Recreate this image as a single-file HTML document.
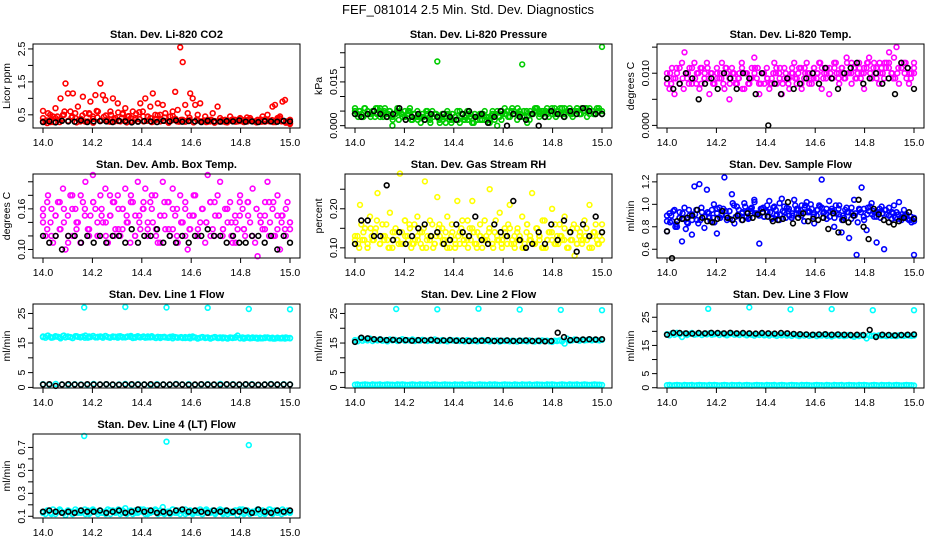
<!DOCTYPE html>
<html><head><meta charset="utf-8"><style>
html,body{margin:0;padding:0;background:#fff;}
svg{display:block;font-family:"Liberation Sans",sans-serif;}
</style></head><body>
<svg id="chart" width="936" height="540" viewBox="0 0 936 540" xmlns="http://www.w3.org/2000/svg">
<text x="468" y="14" text-anchor="middle" font-size="13">FEF_081014  2.5 Min. Std. Dev. Diagnostics</text>
</svg>
<script>
const xTicks = [14.0,14.2,14.4,14.6,14.8,15.0];
const xTickLabels = ["14.0","14.2","14.4","14.6","14.8","15.0"];
const spikeX = [14.167,14.333,14.5,14.667,14.833,15.0];

const co2Red = [0.62,0.3,0.55,0.28,0.45,0.7,0.35,1.0,0.5,1.45, 1.15,0.6,1.15,0.4,0.75,0.3,1.05,0.55,0.3,0.9, 0.45,1.1,0.6,1.45,1.1,0.95,0.3,0.6,1.0,0.4, 0.85,0.3,0.55,0.7,0.45,0.3,0.6,0.4,0.3,0.85, 0.6,1.0,0.45,0.75,1.15,0.5,0.85,0.3,0.8,0.55, 0.3,0.45,0.6,1.2,0.65,2.55,2.1,0.8,0.55,1.15, 1.0,0.8,0.5,0.85,0.3,0.45,0.35,0.3,0.55,0.3, 0.75,0.4,0.3,0.35,0.3,0.45,0.3,0.35,0.3,0.4, 0.3,0.35,0.3,0.4,0.3,0.3,0.35,0.3,0.45,0.3, 0.5,0.3,0.75,0.8,0.4,0.45,0.9,0.95,0.3,0.25];
const co2RedBase = [0.3,0.25,0.35,0.4,0.28,0.5,0.32,0.45,0.27,0.38,0.3,0.55,0.26,0.42,0.33,0.48,0.29,0.36,0.31,0.52,0.27,0.4,0.34,0.58,0.3,0.44,0.28,0.37,0.5,0.32,0.26,0.46,0.3,0.35,0.29,0.41,0.27,0.33,0.3,0.28,0.35,0.26,0.32,0.3,0.27,0.34,0.29,0.31,0.28,0.33,0.3,0.27,0.36,0.29,0.32,0.28,0.35,0.3,0.26,0.22];
const co2RedBase2 = [0.4,0.33,0.5,0.28,0.45,0.36,0.6,0.3,0.42,0.55,0.34,0.48,0.29,0.52,0.38,0.62,0.31,0.44,0.35,0.5,0.3,0.57,0.4,0.33,0.46,0.29,0.53,0.37,0.45,0.32,0.4,0.3,0.48,0.36,0.42,0.3,0.33,0.38,0.29,0.35,0.31,0.34,0.28,0.36,0.3,0.33,0.29,0.35,0.31,0.3,0.34,0.28,0.32,0.36,0.3,0.38,0.33,0.42,0.35,0.3,0.33,0.29,0.36,0.31,0.34,0.28,0.4,0.32,0.3,0.35];
const co2Black = [0.28,0.3,0.27,0.32,0.3,0.29,0.33,0.28,0.3,0.31,0.3,0.28,0.32,0.3,0.27,0.29,0.31,0.3,0.28,0.32,0.3,0.33,0.29,0.31,0.3,0.28,0.32,0.3,0.29,0.31,0.3,0.33,0.29,0.3,0.28,0.31,0.3,0.29,0.32,0.3];

const pressGreen = [0.006,0.004,0.005,0.003,0.006,0.005,0.004,0.005,0.003,0.006, 0.005,0.004,0.006,0.003,0.005,0.0,0.004,0.006,0.005,0.003, 0.005,0.004,0.006,0.002,0.004,0.005,0.003,0.004,0.002,0.005, 0.003,0.005,0.004,0.022,0.001,0.004,0.003,0.005,0.002,0.004, 0.003,0.005,0.001,0.004,0.002,0.005,0.003,0.001,0.004,0.002, 0.004,0.002,0.005,0.003,0.001,0.004,0.002,0.0,0.003,0.004, 0.006,0.005,0.003,0.006,0.004,0.002,0.005,0.021,0.003,0.001, 0.002,0.004,0.005,0.006,0.004,0.005,0.003,0.006,0.005,0.004, 0.006,0.005,0.004,0.006,0.003,0.005,0.006,0.004,0.005,0.006, 0.004,0.006,0.005,0.003,0.006,0.005,0.004,0.006,0.005,0.027];
const pressGreen2 = [0.004,0.005,0.003,0.005,0.004,0.006,0.003,0.005,0.004,0.002,0.005,0.004,0.003,0.005,0.004,0.002,0.003,0.005,0.001,0.004,0.003,0.002,0.004,0.001,0.003,0.005,0.002,0.004,0.001,0.003,0.004,0.002,0.003,0.004,0.005,0.002,0.004,0.003,0.005,0.004,0.003,0.005,0.004,0.006,0.003,0.005,0.004,0.005,0.003,0.006,0.004,0.005,0.003,0.005,0.004,0.006,0.005,0.004,0.005,0.004];
const pressGreen3 = [0.005,0.003,0.004,0.006,0.004,0.003,0.005,0.004,0.006,0.003,0.004,0.005,0.003,0.004,0.002,0.004,0.003,0.005,0.002,0.004,0.003,0.001,0.003,0.004,0.002,0.003,0.004,0.002,0.003,0.001,0.004,0.002,0.003,0.002,0.004,0.003,0.002,0.004,0.001,0.003,0.002,0.004,0.003,0.002,0.005,0.004,0.003,0.005,0.004,0.003,0.005,0.004,0.006,0.004,0.005,0.003,0.005,0.004,0.006,0.005,0.004,0.005,0.003,0.006,0.004,0.005,0.004,0.006,0.005,0.004,0.005,0.006,0.004,0.005,0.006,0.004,0.005,0.004,0.006,0.005];
const pressBlack = [0.004,0.003,0.004,0.005,0.004,0.003,0.004,0.006,0.002,0.003,0.004,0.002,0.004,0.003,0.004,0.003,0.002,0.004,0.005,0.003,0.004,0.001,0.003,0.005,0.0,0.004,0.003,0.002,0.004,0.0,0.003,0.005,0.004,0.003,0.005,0.004,0.006,0.005,0.004,0.004];

const liTempMag = [.009,.007,.011,.006,.010,.008,.012,.014,.009,.011, .008,.012,.010,.007,.011,.009,.012,.006,.010,.008, .011,.009,.012,.007,.010,.005,.011,.009,.008,.010, .012,.007,.010,.008,.011,.013,.009,.006,.010,.008, .011,.007,.009,.012,.008,.010,.006,.011,.009,.007, .010,.012,.008,.011,.007,.009,.012,.010,.008,.011, .009,.012,.007,.010,.011,.006,.009,.012,.010,.008, .011,.009,.013,.010,.008,.011,.009,.012,.010,.007, .011,.013,.009,.012,.010,.008,.011,.009,.012,.014, .010,.013,.015,.008,.011,.012,.009,.008,.010,.012];
const liTempMag2 = [.010,.008,.009,.011,.007,.010,.009,.008,.011,.010,.009,.008,.010,.009,.011,.008,.010,.009,.007,.010,.009,.011,.008,.010,.009,.008,.010,.011,.009,.008,.010,.009,.011,.010,.008,.009,.010,.011,.009,.010,.011,.009,.010,.012,.010,.009,.011,.010,.012,.009,.011,.010,.012,.011,.009,.010,.011,.012,.010,.011];
const liTempMag3 = [.008,.010,.009,.011,.008,.009,.010,.008,.011,.009,.010,.008,.009,.011,.010,.008,.009,.010,.008,.011,.009,.010,.008,.009,.011,.010,.008,.009,.010,.011,.008,.010,.009,.008,.010,.011,.009,.008,.010,.009,.011,.009,.010,.008,.011,.010,.009,.011,.010,.012,.009,.010,.011,.009,.012,.010,.011,.009,.010,.012,.011,.010,.009,.011,.012,.010,.011,.009,.012,.010,.011,.012,.010,.009,.011,.012,.010,.011,.009,.010];
const liTempBlack = [.009,.007,.008,.010,.009,.005,.008,.009,.007,.010,.009,.007,.010,.009,.006,.010,.000,.008,.006,.009,.007,.008,.009,.010,.008,.011,.009,.007,.010,.011,.012,.008,.009,.010,.008,.009,.006,.012,.011,.007];

const ambMag = [.16,.12,.18,.14,.11,.15,.17,.13,.19,.10, .15,.18,.12,.16,.14,.11,.17,.20,.13,.15, .21,.16,.12,.18,.14,.19,.11,.15,.17,.13, .18,.12,.16,.19,.14,.11,.17,.15,.20,.13, .16,.19,.12,.17,.14,.18,.11,.15,.20,.13, .17,.12,.19,.15,.11,.18,.14,.16,.10,.13, .15,.18,.12,.14,.16,.11,.21,.17,.13,.15, .18,.20,.12,.16,.14,.17,.11,.15,.13,.18, .16,.12,.17,.14,.19,.11,.09,.15,.13,.17, .20,.14,.16,.12,.18,.10,.15,.13,.17,.14];
const ambMag2 = [.14,.17,.12,.15,.13,.16,.12,.18,.14,.11,.16,.13,.17,.12,.15,.14,.18,.12,.16,.13,.15,.17,.12,.14,.16,.13,.18,.12,.15,.17,.13,.16,.12,.14,.17,.13,.15,.12,.16,.14,.17,.12,.15,.13,.16,.12,.14,.17,.13,.15,.12,.16,.14,.13,.17,.12,.15,.14,.16,.13];
const ambMag3 = [.15,.13,.16,.12,.17,.14,.11,.16,.13,.18,.15,.12,.17,.14,.16,.12,.15,.17,.13,.16,.14,.18,.12,.15,.17,.14,.16,.13,.11,.15,.17,.13,.16,.14,.12,.15,.18,.13,.16,.14,.12,.17,.15,.13,.16,.14,.11,.15,.13,.17,.12,.16,.14,.15,.12,.17,.13,.15,.12,.14];
const ambBlack = [.12,.11,.12,.10,.12,.12,.11,.12,.11,.12,.11,.12,.12,.11,.13,.11,.12,.12,.13,.11,.12,.11,.12,.11,.12,.12,.13,.12,.12,.11,.12,.11,.11,.12,.12,.11,.12,.10,.12,.11];

const rhYellow = [.11,.13,.21,.12,.15,.10,.18,.12,.14,.24, .11,.16,.13,.12,.19,.10,.14,.12,.29,.11, .17,.13,.15,.11,.12,.18,.14,.10,.27,.13, .12,.16,.11,.23,.13,.15,.12,.18,.10,.14, .12,.22,.11,.17,.13,.12,.15,.22,.11,.14, .13,.10,.17,.12,.25,.11,.14,.13,.19,.12, .15,.11,.21,.12,.10,.14,.13,.18,.11,.16, .12,.24,.11,.15,.13,.10,.17,.12,.14,.20, .11,.13,.16,.12,.18,.10,.14,.12,.08,.15, .13,.11,.17,.12,.21,.10,.14,.12,.13,.16];
const rhYellow2 = [.12,.10,.14,.11,.13,.15,.11,.12,.10,.14,.12,.11,.13,.16,.11,.12,.14,.10,.13,.11,.15,.12,.10,.13,.11,.14,.12,.10,.15,.11,.13,.12,.14,.10,.12,.11,.13,.15,.11,.12,.10,.14,.12,.11,.13,.10,.12,.14,.11,.13,.12,.10,.15,.11,.12,.13,.10,.14,.11,.12];
const rhYellow3 = [.13,.11,.16,.12,.10,.15,.12,.17,.11,.13,.16,.10,.12,.15,.11,.14,.17,.12,.10,.16,.13,.11,.15,.12,.17,.10,.13,.16,.11,.14,.12,.16,.10,.13,.15,.11,.17,.12,.14,.10,.16,.12,.13,.15,.11,.17,.12,.10,.14,.16,.11,.13,.15,.12,.10,.16,.13,.11,.15,.12,.17,.10,.14,.12,.16,.11,.13,.15,.10,.12,.16,.11,.14,.12,.15,.10,.13,.16,.11,.14];
const rhBlack = [.11,.17,.17,.13,.13,.26,.12,.14,.11,.13,.15,.16,.13,.14,.11,.12,.16,.14,.13,.18,.12,.11,.16,.14,.13,.22,.12,.10,.11,.14,.11,.16,.12,.17,.14,.09,.16,.13,.18,.14];

const flowBlue = [.76,.92,.85,.95,.80,.88,.67,.97,.84,.90, .73,1.16,.86,1.18,.93,.79,1.13,.88,.95,.84, .74,.97,.91,1.24,.86,.94,1.09,.83,.98,.90, .86,1.01,.93,.88,.97,1.04,.92,.65,.96,.89, .94,1.03,.87,.98,.91,.86,1.05,.93,.97,.90, .88,1.04,.95,.91,.99,.85,1.02,.94,.96,.83, .90,.99,1.22,.93,.87,1.03,.96,.80,.92,.99, .75,.88,.97,.70,.92,1.04,.55,.96,1.15,.86, .77,.94,1.01,.89,.66,.93,.98,.60,.91,.97, .87,.99,.93,1.02,.88,.95,.91,.86,.84,.55];
const flowBlue2 = [.85,.90,.80,.93,.87,.83,.91,.95,.86,.89,.92,.88,.96,.90,.94,.87,.99,.91,.93,.89,.96,.92,.90,.97,.93,.88,.95,.91,.98,.94,.90,.96,.92,.99,.93,.89,.95,.97,.91,.94,.88,.96,.90,.93,.87,.92,.95,.89,.97,.91,.93,.88,.95,.90,.92,.87,.91,.89,.86,.88];
const flowBlue3 = [.90,.84,.94,.82,.88,.92,.78,.95,.86,.91,.83,.97,.89,.93,.85,1.0,.92,.88,.96,.90,.94,1.01,.89,.95,.92,.98,.87,.94,1.02,.91,.96,.89,.99,.93,.97,.90,1.01,.94,.88,.96,.92,.99,.95,.90,.97,.93,1.0,.91,.95,.98,.92,.96,.89,.94,.99,.91,.86,.95,.93,.97,.90,.84,.93,.96,.91,.98,.94,.89,.96,.92,.95,.90,.93,.88,.91,.86,.90,.87,.89,.85];
const flowBlack = [.76,.52,.85,.87,.88,.90,.95,.88,.85,.84,.87,.94,.88,.86,.90,.86,.92,.88,.91,.93,.89,.85,.86,.87,1.02,.83,.88,.92,.85,.87,.86,.88,.78,.92,.75,.86,.84,.90,1.04,.80,.69,.96,.91,.86,.84,.82,.85,.88,.93,.87];

const l1CyanTop = [17.2,16.8,17.5,17.0,16.9,17.3,17.1,16.6,17.4,16.9,17.2,17.0,16.7,17.3,17.1,16.9,17.2,17.5,16.8,17.0,17.3,16.9,17.1,17.2,16.8,17.4,17.0,16.9,17.2,17.1,16.8,17.3,17.0,16.9,17.2,17.1,16.7,17.0,17.3,16.9,17.1,16.8,17.2,16.9,17.0,16.8,17.1,16.7,17.0,16.9,16.8,17.1,16.6,17.0,16.8,16.9,16.7,17.0,16.8,16.6,17.2,16.9,16.5,16.8,17.0,16.7,16.9,16.6,16.8,17.0,16.7,16.9,16.6,16.8,16.5,16.9,16.7,16.8,17.5,16.6,16.9,16.7,16.8,16.6,16.9,16.7,16.5,16.8,16.6,16.7,16.9,16.6,16.8,16.5,16.7,16.6,16.8,16.5,16.7,16.6];
const l1CyanTop2 = [17.0,17.4,16.8,17.2,16.9,17.5,17.1,16.7,17.3,17.0,16.8,17.2,17.4,16.9,17.1,17.3,16.8,17.0,17.2,16.9,17.1,17.4,16.8,17.0,17.2,16.9,17.3,16.7,17.0,17.1,16.8,17.2,16.9,17.0,16.7,17.1,16.9,16.6,17.0,16.8,16.5,17.0,16.7,16.9,16.6,16.8,17.0,16.7,16.5,16.9,16.7,16.8,16.6,16.9,16.7,16.5,16.8,16.6,16.9,16.7];
const l1CyanLow = [1.1,0.9,1.2,1.0,0.8,1.1,1.0,0.9,1.2,1.0,1.1,0.9,1.0,1.2,0.9,1.1,1.0,0.8,1.1,1.0,0.9,1.2,1.0,1.1,0.9,1.0,1.1,0.9,1.2,1.0,1.1,0.9,1.0,1.1,0.8,1.0,1.2,0.9,1.1,1.0];
const l1Spike = [27.0,27.2,27.0,26.9,26.5,26.4];
const l1Black = [1.0,1.1,0.5,1.0,1.1,1.0,0.9,1.1,1.0,1.0,1.1,1.0,0.9,1.0,1.1,1.0,1.0,1.1,0.9,1.0,1.0,1.1,1.0,0.9,1.0,1.1,1.0,1.0,0.9,1.1,1.0,1.0,1.1,1.0,0.9,1.0,1.1,1.0,1.0,1.0];

const l2CyanTop = [16.0,15.6,16.4,15.8,16.2,15.9,16.5,15.7,16.1,15.9,16.3,15.8,16.0,15.6,16.2,15.9,16.1,15.7,16.0,16.3,15.8,16.0,15.9,16.2,15.7,16.0,15.8,16.1,15.9,15.7,16.0,15.8,16.2,15.9,15.7,16.0,15.8,15.6,16.1,15.9,15.8,16.0,15.7,15.9,15.6,16.0,15.8,15.7,15.9,15.6,15.8,16.0,15.7,15.9,15.6,15.8,15.7,15.9,15.5,15.8,15.7,15.9,15.6,15.8,15.7,15.5,15.9,15.7,15.8,15.6,15.9,15.7,15.5,15.8,15.6,15.9,15.7,15.8,15.6,15.4,15.8,15.7,15.9,15.6,14.8,16.5,15.8,15.9,16.2,16.0,15.8,16.1,15.9,16.0,16.2,15.9,16.1,16.0,15.9,16.1];
const l2CyanLow = [0.9,1.0,0.8,0.9,1.0,0.9,0.8,1.0,0.9,0.9,1.0,0.8,0.9,1.0,0.9,0.9,0.8,1.0,0.9,1.0,0.9,0.8,0.9,1.0,0.9,0.8,1.0,0.9,0.9,1.0,0.8,0.9,1.0,0.9,0.8,0.9,1.0,0.9,0.9,0.8,1.0,0.9,0.9,1.0,0.8,0.9,1.0,0.9,0.8,0.9,1.0,0.9,0.9,0.8,1.0,0.9,1.0,0.9,0.8,0.9,1.0,0.9,0.9,0.8,1.0,0.9,0.8,1.0,0.9,0.9,1.0,0.8,0.9,1.0,0.9,0.9,0.8,1.0,0.9,1.0,0.9,0.8,0.9,1.0,0.9,0.8,1.0,0.9,0.9,1.0,0.8,0.9,1.0,0.9,0.8,0.9,1.0,0.9,0.9,0.8];
const l2Spike = [26.5,26.4,26.6,26.3,26.2,26.1];
const l2Black = [15.4,16.8,16.6,16.3,16.2,16.0,16.1,15.9,16.0,15.8,16.0,15.9,16.1,15.8,15.9,16.0,15.8,15.9,15.7,15.9,15.8,16.0,15.7,15.8,15.9,15.7,15.8,15.9,15.7,15.8,15.6,15.7,18.5,17.0,16.0,16.1,16.2,16.3,16.2,16.3];

const l3CyanTop = [19.0,18.6,19.3,18.8,19.5,18.9,18.0,19.2,18.7,19.1,19.4,18.8,19.0,19.2,18.7,19.1,18.9,19.3,18.8,19.0,19.2,18.7,19.1,18.9,18.6,19.0,19.2,18.8,19.0,18.7,19.1,18.9,18.6,19.0,18.8,18.5,18.9,18.7,19.0,18.6,18.8,18.5,18.9,18.7,18.4,18.8,18.6,18.9,18.5,18.7,18.4,18.8,18.6,18.3,18.7,18.5,18.8,18.4,18.6,18.7,18.3,18.6,18.5,18.8,18.4,18.6,18.2,18.5,18.7,18.4,18.6,18.3,18.5,18.7,18.4,18.1,18.5,18.3,18.6,18.4,17.5,18.6,18.4,18.5,18.3,18.6,18.4,18.5,18.3,18.6,18.4,18.5,18.3,18.6,18.5,18.4,18.6,18.5,18.4,18.5];
const l3CyanLow = [0.9,1.0,0.8,0.9,1.0,0.9,0.8,1.0,0.9,0.9,1.0,0.8,0.9,1.0,0.9,0.9,0.8,1.0,0.9,1.0,0.9,0.8,0.9,1.0,0.9,0.8,1.0,0.9,0.9,1.0,0.8,0.9,1.0,0.9,0.8,0.9,1.0,0.9,0.9,0.8,1.0,0.9,0.9,1.0,0.8,0.9,1.0,0.9,0.8,0.9,1.0,0.9,0.9,0.8,1.0,0.9,1.0,0.9,0.8,0.9,1.0,0.9,0.9,0.8,1.0,0.9,0.8,1.0,0.9,0.9,1.0,0.8,0.9,1.0,0.9,0.9,0.8,1.0,0.9,1.0,0.9,0.8,0.9,1.0,0.9,0.8,1.0,0.9,0.9,1.0,0.8,0.9,1.0,0.9,0.8,0.9,1.0,0.9,0.9,0.8];
const l3Spike = [28.0,28.5,27.8,27.9,27.5,27.5];
const l3Black = [18.8,19.5,19.4,19.3,19.2,19.4,19.3,19.5,19.4,19.3,19.5,19.3,19.4,19.3,19.2,19.4,19.3,19.2,19.4,19.3,19.1,19.0,18.9,18.8,18.9,19.0,18.8,18.9,18.8,18.7,18.8,18.7,20.5,18.0,18.8,18.7,18.6,18.7,18.8,18.9];

const l4Cyan = [.14,.12,.15,.13,.16,.12,.14,.15,.13,.11,.15,.14,.12,.16,.13,.15,.14,.12,.15,.13,.16,.14,.12,.15,.13,.14,.16,.12,.15,.13,.14,.12,.15,.17,.13,.14,.12,.15,.13,.16,.14,.12,.15,.13,.14,.16,.12,.15,.18,.13,.14,.12,.16,.13,.15,.12,.14,.16,.13,.15,.12,.14,.13,.16,.12,.15,.14,.13,.15,.12,.14,.16,.13,.15,.12,.14,.13,.15,.11,.14,.16,.13,.15,.12,.14,.13,.16,.12,.15,.13,.14,.16,.12,.15,.13,.14,.16,.13,.15,.14];
const l4Cyan2 = [.13,.15,.12,.14,.16,.13,.15,.12,.14,.13,.16,.12,.15,.14,.13,.12,.15,.14,.16,.13,.12,.15,.13,.14,.16,.12,.14,.15,.13,.12,.14,.16,.13,.15,.12,.14,.13,.15,.12,.16,.14,.13,.15,.12,.14,.13,.15,.16,.12,.14,.13,.15,.14,.12,.16,.13,.15,.12,.14,.13];
const l4Spike = [0.80,0.75,0.72];
const l4SpikeX = [14.167,14.5,14.833];
const l4Black = [.14,.15,.14,.13,.14,.13,.15,.14,.14,.15,.13,.14,.15,.13,.14,.16,.14,.15,.13,.14,.13,.15,.16,.14,.15,.14,.13,.15,.14,.15,.14,.14,.15,.13,.16,.14,.13,.15,.14,.15];

const NS="http://www.w3.org/2000/svg";
const svg=document.getElementById('chart');
function mk(tag,attrs,parent){const e=document.createElementNS(NS,tag);for(const k in attrs)e.setAttribute(k,attrs[k]);(parent||svg).appendChild(e);return e;}

const panels=[
 {id:'co2',title:'Stan. Dev. Li-820 CO2',ylab:'Licor ppm',col:0,row:0,ymin:0.1,ymax:2.65,ticks:[0.5,1,1.5,2,2.5],labels:{0.5:'0.5',1.5:'1.5',2.5:'2.5'},
  series:[{v:co2RedBase,c:'#ff0000'},{v:co2RedBase2,c:'#ff0000'},{v:co2Red,c:'#ff0000'},{v:co2Black,c:'#000'}]},
 {id:'pressure',title:'Stan. Dev. Li-820 Pressure',ylab:'kPa',col:1,row:0,ymin:-0.0008,ymax:0.028,ticks:[0,0.005,0.01,0.015,0.02,0.025],labels:{0:'0.000',0.015:'0.015'},
  series:[{v:pressGreen2,c:'#00cc00'},{v:pressGreen3,c:'#00cc00'},{v:pressGreen,c:'#00cc00'},{v:pressBlack,c:'#000'}]},
 {id:'li-temp',title:'Stan. Dev. Li-820 Temp.',ylab:'degrees C',col:2,row:0,ymin:-0.0005,ymax:0.0156,ticks:[0,0.005,0.01,0.015],labels:{0:'0.000',0.01:'0.010'},
  series:[{v:liTempMag2,c:'#ff00ff'},{v:liTempMag3,c:'#ff00ff'},{v:liTempMag,c:'#ff00ff'},{v:liTempBlack,c:'#000'}]},
 {id:'amb-temp',title:'Stan. Dev. Amb. Box Temp.',ylab:'degrees C',col:0,row:1,ymin:0.0874,ymax:0.2115,ticks:[0.1,0.12,0.14,0.16,0.18,0.2],labels:{0.1:'0.10',0.16:'0.16'},
  series:[{v:ambMag2,c:'#ff00ff'},{v:ambMag3,c:'#ff00ff'},{v:ambMag,c:'#ff00ff'},{v:ambBlack,c:'#000'}]},
 {id:'rh',title:'Stan. Dev. Gas Stream RH',ylab:'percent',col:1,row:1,ymin:0.074,ymax:0.289,ticks:[0.1,0.15,0.2,0.25],labels:{0.1:'0.10',0.2:'0.20'},
  series:[{v:rhYellow2,c:'#ffff00'},{v:rhYellow3,c:'#ffff00'},{v:rhYellow,c:'#ffff00'},{v:rhBlack,c:'#000'}]},
 {id:'sample-flow',title:'Stan. Dev. Sample Flow',ylab:'ml/min',col:2,row:1,ymin:0.522,ymax:1.27,ticks:[0.6,0.8,1.0,1.2],labels:{0.6:'0.6',0.8:'0.8',1:'1.0',1.2:'1.2'},
  series:[{v:flowBlue2,c:'#0000ff'},{v:flowBlue3,c:'#0000ff'},{v:flowBlue,c:'#0000ff'},{v:flowBlack,c:'#000'}]},
 {id:'line1',title:'Stan. Dev. Line 1 Flow',ylab:'ml/min',col:0,row:2,ymin:-0.2,ymax:28.2,ticks:[0,5,10,15,20,25],labels:{0:'0',5:'5',15:'15',25:'25'},
  series:[{v:l1CyanTop,c:'#00ffff'},{v:l1CyanTop2,c:'#00ffff'},{v:l1CyanLow,c:'#00ffff'},{v:l1Spike,x:spikeX,c:'#00ffff'},{v:l1Black,c:'#000'}]},
 {id:'line2',title:'Stan. Dev. Line 2 Flow',ylab:'ml/min',col:1,row:2,ymin:-0.2,ymax:28.2,ticks:[0,5,10,15,20,25],labels:{0:'0',5:'5',15:'15',25:'25'},
  series:[{v:l2CyanTop,c:'#00ffff'},{v:l2CyanLow,c:'#00ffff'},{v:l2Spike,x:spikeX,c:'#00ffff'},{v:l2Black,c:'#000'}]},
 {id:'line3',title:'Stan. Dev. Line 3 Flow',ylab:'ml/min',col:2,row:2,ymin:-0.1,ymax:29.7,ticks:[0,5,10,15,20,25],labels:{0:'0',5:'5',15:'15',25:'25'},
  series:[{v:l3CyanTop,c:'#00ffff'},{v:l3CyanLow,c:'#00ffff'},{v:l3Spike,x:spikeX,c:'#00ffff'},{v:l3Black,c:'#000'}]},
 {id:'line4',title:'Stan. Dev. Line 4 (LT) Flow',ylab:'ml/min',col:0,row:3,ymin:0.085,ymax:0.817,ticks:[0.1,0.2,0.3,0.4,0.5,0.6,0.7],labels:{0.1:'0.1',0.3:'0.3',0.5:'0.5',0.7:'0.7'},
  series:[{v:l4Cyan,c:'#00ffff'},{v:l4Cyan2,c:'#00ffff'},{v:l4Spike,x:l4SpikeX,c:'#00ffff'},{v:l4Black,c:'#000'}]}
];

panels.forEach(p=>{
  const L=33+312*p.col, R=300+312*p.col, T=44+130*p.row, B=128+130*p.row;
  const xs=v=>L+10+(v-14)*247;
  const ys=v=>B-(v-p.ymin)/(p.ymax-p.ymin)*(B-T);
  const g=mk('g',{});
  
  
  const t=mk('text',{x:(L+R)/2,y:T-6,'text-anchor':'middle','font-size':'11','font-weight':'bold'},g);
  
  
  t.textContent=p.title;
  const yl=mk('text',{x:0,y:0,'text-anchor':'middle','font-size':'10.5',transform:`translate(${L-23},${(T+B)/2}) rotate(-90)`},g);
  
  
  yl.textContent=p.ylab;
  p.series.forEach(s=>{
    const n=s.v.length;
    s.v.forEach((v,i)=>{
      const xv=s.x?s.x[i]:14+i/(n-1);
      const c=mk('circle',{cx:xs(xv).toFixed(1),cy:ys(v).toFixed(1),r:2.4,fill:'none',stroke:s.c,'stroke-width':1.6},g);
      
      
    });
  });
  const box=mk('rect',{x:L,y:T,width:R-L,height:B-T,fill:'none',stroke:'#000','stroke-width':1},g);
  
  
  xTicks.forEach((v,i)=>{
    const x=xs(v);
    const tk=mk('line',{x1:x,y1:B,x2:x,y2:B+5,stroke:'#000'},g);
    
    
    const lb=mk('text',{x:x,y:B+18,'text-anchor':'middle','font-size':'10.5'},g);
    
    
    lb.textContent=xTickLabels[i];
  });
  p.ticks.forEach(v=>{
    const y=ys(v);
    const tk=mk('line',{x1:L-5,y1:y,x2:L,y2:y,stroke:'#000'},g);
    
    
    const key=Object.keys(p.labels).find(k=>Math.abs(parseFloat(k)-v)<1e-9);
    if(key!==undefined){
      const lb=mk('text',{x:0,y:0,'text-anchor':'middle','font-size':'10.5',transform:`translate(${L-8},${y}) rotate(-90)`},g);
      
      
      lb.textContent=p.labels[key];
    }
  });
});
</script>
</body></html>
